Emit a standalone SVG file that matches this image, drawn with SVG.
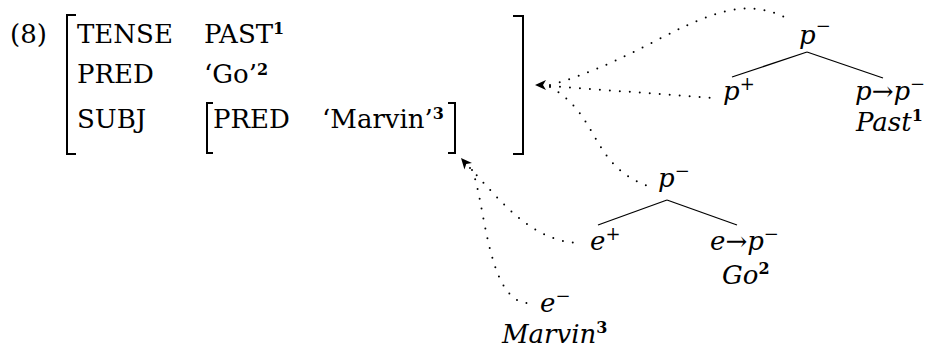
<svg xmlns="http://www.w3.org/2000/svg" width="928" height="350" viewBox="0 0 928 350">
<style>
text{font-family:'DejaVu Serif',serif;font-size:26px;fill:#000}
.i{font-style:italic}
.sup{font-size:18px;font-style:normal}
.b{font-weight:bold;font-size:16px;font-style:normal}
.br{fill:none;stroke:#000;stroke-width:2;stroke-linejoin:miter}
.edge{stroke:#000;stroke-width:1.3;fill:none}
.dot{fill:none;stroke:#000;stroke-width:2;stroke-linecap:round;stroke-dasharray:0 10}
</style>
<defs>
<path id="ah" d="M0,0 L11,-5 L8,0 L11,5 Z" fill="#000"/>
</defs>

<g id="label-8">
<text x="10" y="43">(8)</text>
</g>

<g id="avm">
<polyline class="br" points="76,15 67,15 67,154 76,154"/>
<polyline class="br" points="513,16 523,16 523,154 513,154"/>
<text x="77" y="43">TENSE</text>
<text x="204" y="43">PAST<tspan class="b" dy="-9">1</tspan></text>
<text x="77" y="83">PRED</text>
<text x="204" y="83">‘Go’<tspan class="b" dy="-8">2</tspan></text>
<text x="77" y="128">SUBJ</text>
<g id="avm-subj">
<polyline class="br" points="213,103 207,103 207,153 213,153"/>
<polyline class="br" points="448,103 455,103 455,153 448,153"/>
<text x="213" y="128">PRED</text>
<text x="322" y="128">‘Marvin’<tspan class="b" dy="-9">3</tspan></text>
</g>
</g>

<g id="tree-past">
<text x="799" y="44"><tspan class="i">p</tspan><tspan class="sup" dy="-12">−</tspan></text>
<line class="edge" x1="807" y1="52" x2="732" y2="77"/>
<line class="edge" x1="807" y1="52" x2="883" y2="78"/>
<text x="723" y="100"><tspan class="i">p</tspan><tspan class="sup" dy="-10">+</tspan></text>
<text x="855" y="100"><tspan class="i">p</tspan>→<tspan class="i">p</tspan><tspan class="sup" dy="-10">−</tspan></text>
<text class="i" x="856" y="131">Past<tspan class="b" dy="-10">1</tspan></text>
</g>

<g id="tree-go">
<text x="658" y="187"><tspan class="i">p</tspan><tspan class="sup" dy="-10">−</tspan></text>
<line class="edge" x1="667" y1="200" x2="598" y2="225"/>
<line class="edge" x1="667" y1="200" x2="737" y2="225"/>
<text x="590" y="250"><tspan class="i">e</tspan><tspan class="sup" dy="-10">+</tspan></text>
<text x="710" y="250"><tspan class="i">e</tspan>→<tspan class="i">p</tspan><tspan class="sup" dy="-10">−</tspan></text>
<text class="i" x="722" y="284">Go<tspan class="b" dy="-10">2</tspan></text>
</g>

<g id="node-marvin">
<text x="540" y="312"><tspan class="i">e</tspan><tspan class="sup" dy="-10">−</tspan></text>
<text class="i" x="502" y="343">Marvin<tspan class="b" dy="-10">3</tspan></text>
</g>

<g id="connectors">
<path class="dot" d="M550,85 C660,55 720,-20 790,20"/>
<path class="dot" d="M550,86 L713,98"/>
<path class="dot" d="M550,87 C600,115 590,165 648,186"/>
<path class="dot" d="M470,168 C500,200 530,240 577,243"/>
<path class="dot" d="M472,170 C485,200 487,300 527,303"/>
<use href="#ah" transform="translate(535,85)"/>
<use href="#ah" transform="translate(461,158) rotate(49)"/>
</g>
</svg>
